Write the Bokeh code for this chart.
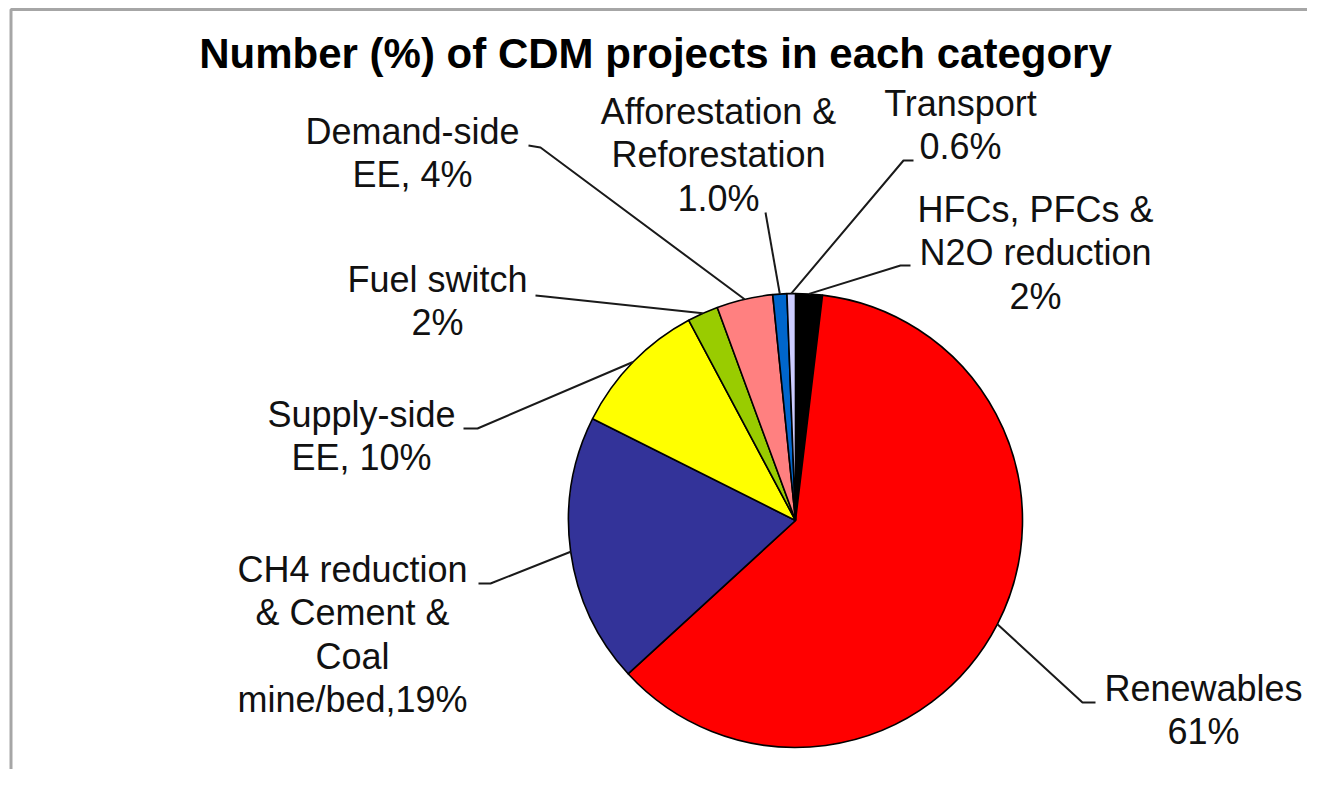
import math
from bokeh.plotting import figure
from bokeh.models import Range1d, ColumnDataSource
from bokeh.core.properties import value
from bokeh.embed import file_html
from bokeh.resources import INLINE

# ---- data (clockwise from 12 o'clock) ----
categories = ["HFCs, PFCs & N2O reduction", "Renewables",
              "CH4 reduction & Cement & Coal mine/bed", "Supply-side EE",
              "Fuel switch", "Demand-side EE",
              "Afforestation & Reforestation", "Transport"]
shares = [1.9, 61.3, 19.2, 9.8, 2.2, 4.0, 1.0, 0.6]
label_lines = [["HFCs, PFCs &", "N2O reduction", "2%"],
               ["Renewables", "61%"],
               ["CH4 reduction", "& Cement &", "Coal", "mine/bed,19%"],
               ["Supply-side", "EE, 10%"],
               ["Fuel switch", "2%"],
               ["Demand-side", "EE, 4%"],
               ["Afforestation &", "Reforestation", "1.0%"],
               ["Transport", "0.6%"]]
colors = ["#000000", "#FF0000", "#333399", "#FFFF00",
          "#99CC00", "#FF8080", "#0066CC", "#CCCCFF"]
title_text = "Number (%) of CDM projects in each category"

# ---- layout (target picture pixel positions) ----
W, H = 1307, 769
def fx(x): return x
def fy(y): return H - y

LABEL_FS = 36
TITLE_FS = 42
TXT_SHIFT = 0.4  # empirical baseline correction (em)

PIE_X, PIE_Y, R = 795, 520, 227
label_cx = [1035, 1203, 352, 361, 437, 412, 718, 960]
label_y0 = [223, 702, 583, 428, 293, 145, 125, 117]
LINE_GAP = 43.5
elbows = [[(910, 265), (900, 265)],
          [(1095, 702), (1082, 702)],
          [(478, 583), (490, 583)],
          [(463, 428), (477, 428)],
          [(535, 295), (545, 296)],
          [(528, 145), (540, 147)],
          [(765, 212)],
          [(913, 160), (903, 160)]]

FONT = "Liberation Sans"

p = figure(width=W, height=H, output_backend="svg", toolbar_location=None,
           x_range=Range1d(0, W), y_range=Range1d(0, H),
           x_axis_location=None, y_axis_location=None, min_border=0)
p.grid.visible = False
p.outline_line_color = None
p.background_fill_color = "white"
p.border_fill_color = "white"

# frame (top + left border of the chart area)
p.line([fx(10.5), fx(10.5), fx(1400)], [fy(900), fy(9), fy(9)],
       line_color="#A6A6A6", line_width=3)

# wedges
total = sum(shares)
starts, ends, mids = [], [], []
cum = 0.0
for s in shares:
    a = cum / total
    cum += s
    b = cum / total
    starts.append(math.pi / 2 - 2 * math.pi * b)
    ends.append(math.pi / 2 - 2 * math.pi * a)
    mids.append((a + b) / 2)

src = ColumnDataSource(dict(cat=categories, share=shares, start=starts,
                            end=ends, color=colors))
p.wedge(x=fx(PIE_X), y=fy(PIE_Y), radius=R, start_angle="start",
        end_angle="end", fill_color="color", line_color="black",
        line_width=1.6, source=src)

# leader lines
for i, m in enumerate(mids):
    th = 2 * math.pi * m
    ex = PIE_X + R * math.sin(th)
    ey = PIE_Y - R * math.cos(th)
    pts = elbows[i] + [(ex, ey)]
    p.line([fx(x) for x, _ in pts], [fy(y) for _, y in pts],
           line_color="#1a1a1a", line_width=2)

# labels
tx, ty, tt = [], [], []
for i, lines in enumerate(label_lines):
    for k, t in enumerate(lines):
        tx.append(fx(label_cx[i]))
        ty.append(fy(label_y0[i] + k * LINE_GAP - TXT_SHIFT * LABEL_FS))
        tt.append(t)
p.text(x=tx, y=ty, text=tt, text_align="center", text_baseline="alphabetic",
       text_font=value(FONT), text_font_size=f"{LABEL_FS}px",
       text_color="#111111")

# title
p.text(x=[fx(655)], y=[fy(70 - TXT_SHIFT * TITLE_FS)], text=[title_text],
       text_align="center", text_baseline="alphabetic", text_font=value(FONT),
       text_font_size=f"{TITLE_FS}px", text_font_style="bold",
       text_color="#000000")

open("out.html", "w").write(file_html(p, INLINE))
